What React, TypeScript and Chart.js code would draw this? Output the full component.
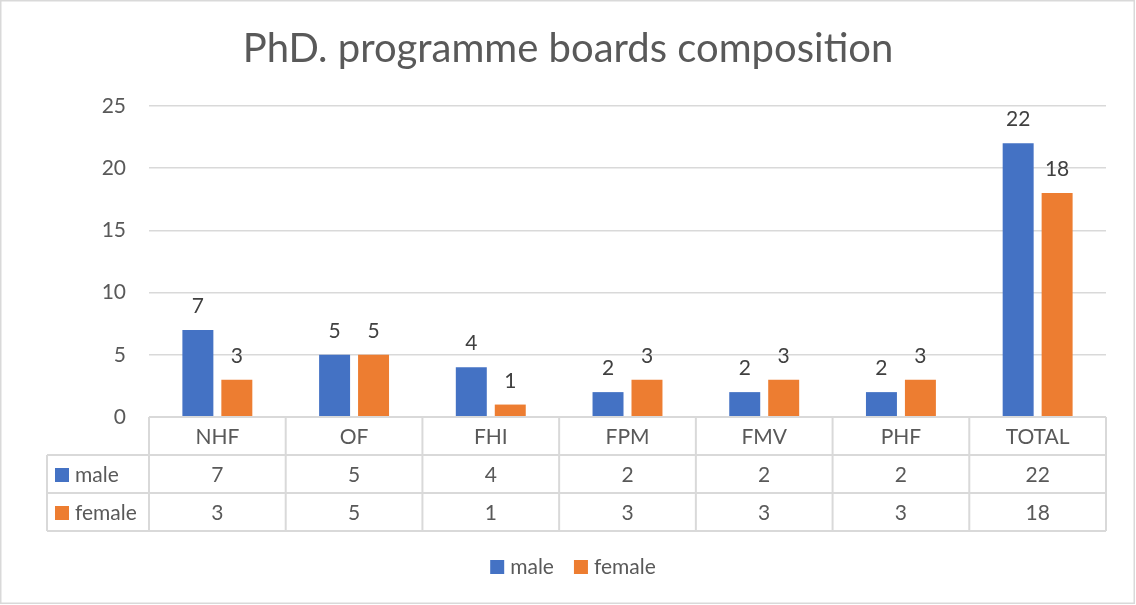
import React, { useEffect, useRef } from "react";
import { Chart, registerables } from "chart.js";

Chart.register(...registerables);

const titleText = "PhD. programme boards composition";
const categories = ["NHF", "OF", "FHI", "FPM", "FMV", "PHF", "TOTAL"];
const seriesNames = ["male", "female"];
const maleValues = [7, 5, 4, 2, 2, 2, 22];
const femaleValues = [3, 5, 1, 3, 3, 3, 18];
const seriesColors = ["#4472C4", "#ED7D31"];
const yMin = 0;
const yMax = 25;
const yStep = 5;

const FONT = "Lato, 'Open Sans', sans-serif";
const TEXT = "#595959";
const LINE = "#d9d9d9";
const FS = 21;

const W = 1136;
const H = 605;

const excelDecor = {
  id: "excelDecor",
  afterDraw(chart: any) {
    const ctx = chart.ctx as CanvasRenderingContext2D;
    const area = chart.chartArea;
    const xs = chart.scales.x;
    ctx.save();

    // outer border
    ctx.strokeStyle = LINE;
    ctx.lineWidth = 1.5;
    ctx.strokeRect(0.75, 0.75, W - 2.5, H - 2.5);

    // title
    ctx.fillStyle = TEXT;
    ctx.font = `40px ${FONT}`;
    ctx.textAlign = "center";
    ctx.textBaseline = "alphabetic";
    ctx.fillText(titleText, W / 2, 62);

    // data labels
    ctx.font = `${FS}px ${FONT}`;
    ctx.fillStyle = "#404040";
    ctx.textBaseline = "alphabetic";
    chart.data.datasets.forEach((ds: any, di: number) => {
      const meta = chart.getDatasetMeta(di);
      meta.data.forEach((bar: any, i: number) => {
        ctx.fillText(String(ds.data[i]), bar.x, bar.y - 17);
      });
    });

    // data table
    const centers = categories.map((_, i) => xs.getPixelForValue(i));
    const step = centers.length > 1 ? centers[1] - centers[0] : area.right - area.left;
    const bounds = [centers[0] - step / 2, ...centers.map((c) => c + step / 2)];
    const rowH = 38;
    const y0 = area.bottom;
    const y1 = y0 + rowH;
    const y2 = y1 + rowH;
    const y3 = y2 + rowH;
    const tableLeft = 47;
    const right = bounds[bounds.length - 1];

    ctx.strokeStyle = LINE;
    ctx.lineWidth = 2;
    ctx.beginPath();
    ctx.moveTo(bounds[0], y0);
    ctx.lineTo(right, y0);
    [y1, y2, y3].forEach((y) => {
      ctx.moveTo(tableLeft, y);
      ctx.lineTo(right, y);
    });
    bounds.forEach((b) => {
      ctx.moveTo(b, y0);
      ctx.lineTo(b, y3);
    });
    ctx.moveTo(tableLeft, y1);
    ctx.lineTo(tableLeft, y3);
    ctx.stroke();

    ctx.fillStyle = TEXT;
    ctx.font = `${FS}px ${FONT}`;
    ctx.textBaseline = "middle";
    ctx.textAlign = "center";
    categories.forEach((c, i) => ctx.fillText(c, centers[i], (y0 + y1) / 2 + 1));
    const rows = [maleValues, femaleValues];
    rows.forEach((vals, r) => {
      const yc = (r === 0 ? (y1 + y2) / 2 : (y2 + y3) / 2) + 1;
      vals.forEach((v, i) => {
        ctx.fillStyle = TEXT;
        ctx.textAlign = "center";
        ctx.fillText(String(v), centers[i], yc);
      });
      ctx.fillStyle = seriesColors[r];
      ctx.fillRect(tableLeft + 8, yc - 7, 14, 14);
      ctx.fillStyle = TEXT;
      ctx.textAlign = "left";
      ctx.fillText(seriesNames[r], tableLeft + 28, yc);
    });

    // bottom legend
    ctx.font = `${FS}px ${FONT}`;
    const gapSwatch = 6;
    const sw = 14;
    const itemGap = 20;
    const widths = seriesNames.map((n) => sw + gapSwatch + ctx.measureText(n).width);
    const total = widths.reduce((a, b) => a + b, 0) + itemGap * (widths.length - 1);
    let lx = W / 2 + 5 - total / 2;
    const ly = 567;
    seriesNames.forEach((n, i) => {
      ctx.fillStyle = seriesColors[i];
      ctx.fillRect(lx, ly - 7, sw, sw);
      ctx.fillStyle = TEXT;
      ctx.textAlign = "left";
      ctx.fillText(n, lx + sw + gapSwatch, ly);
      lx += widths[i] + itemGap;
    });

    ctx.restore();
  },
};

export default function App() {
  const ref = useRef<HTMLCanvasElement | null>(null);
  useEffect(() => {
    if (!ref.current) return;
    const chart = new Chart(ref.current, {
      type: "bar",
      data: {
        labels: categories,
        datasets: [
          {
            label: seriesNames[0],
            data: maleValues,
            backgroundColor: seriesColors[0],
            categoryPercentage: 0.57,
            barPercentage: 0.795,
          },
          {
            label: seriesNames[1],
            data: femaleValues,
            backgroundColor: seriesColors[1],
            categoryPercentage: 0.57,
            barPercentage: 0.795,
          },
        ],
      },
      options: {
        responsive: false,
        animation: false,
        devicePixelRatio: 1,
        layout: { padding: { top: 106, bottom: 188, left: 0, right: 30 } },
        plugins: {
          legend: { display: false },
          title: { display: false },
          tooltip: { enabled: false },
        },
        scales: {
          x: { display: false },
          y: {
            min: yMin,
            max: yMax,
            ticks: {
              stepSize: yStep,
              padding: 23,
              color: TEXT,
              font: { family: FONT, size: FS },
            },
            grid: { color: LINE, lineWidth: 1.5, drawTicks: false },
            border: { display: false },
            afterFit: (scale: any) => {
              scale.width = 149;
            },
          },
        },
      },
      plugins: [excelDecor],
    });
    return () => chart.destroy();
  }, []);
  return (
    <div style={{ position: "fixed", left: 0, top: 0, width: W, height: H, background: "#fff" }}>
      <canvas ref={ref} width={W} height={H} style={{ display: "block" }} />
    </div>
  );
}
